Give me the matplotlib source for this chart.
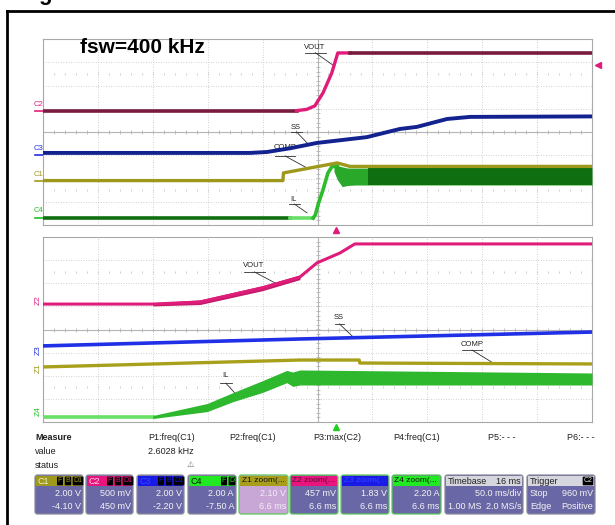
import numpy as np
import matplotlib
matplotlib.use("Agg")
import matplotlib.pyplot as plt
from matplotlib.patches import Rectangle, FancyBboxPatch

plt.rcParams['font.family'] = ['Liberation Sans', 'DejaVu Sans']

# ---- upper screen, in divisions (x 0..10, y -4..4)
vout1_t = [0, 4.62, 4.80, 4.95, 5.10, 5.26, 5.32, 5.37, 5.60, 10]
vout1_v = [0.92, 0.92, 0.97, 1.12, 1.68, 2.54, 3.01, 3.40, 3.40, 3.40]

ss1_t = [0, 3.77, 4.08, 4.50, 4.99, 5.90, 6.50, 6.81, 7.36, 7.78, 10]
ss1_v = [-0.90, -0.90, -0.86, -0.70, -0.47, -0.22, 0.13, 0.22, 0.56, 0.65, 0.67]

comp1_t = [0, 4.37, 4.38, 5.36, 5.59, 10]
comp1_v = [-2.09, -2.09, -1.76, -1.33, -1.48, -1.48]

il1_t = [0, 4.50, 4.92, 4.96, 5.02, 5.10, 5.19, 5.26, 5.36]
il1_v = [-3.70, -3.70, -3.70, -3.57, -3.05, -2.49, -1.76, -1.50, -1.45]
il1_band_t = [5.30, 5.36, 5.45, 5.55, 5.70, 5.92, 10]
il1_band_top = [-1.52, -1.45, -1.50, -1.55, -1.55, -1.55, -1.55]
il1_band_bot = [-1.70, -2.05, -2.35, -2.30, -2.28, -2.28, -2.28]

# ---- lower (zoomed) screen
vout2_t = [0, 2.0, 2.86, 4.0, 4.68, 4.99, 5.41, 5.68, 10]
vout2_v = [1.10, 1.10, 1.19, 1.80, 2.27, 2.88, 3.31, 3.70, 3.70]
vout2_band_t = [2.0, 2.86, 4.0, 4.68]
vout2_band_top = [1.15, 1.28, 1.90, 2.36]
vout2_band_bot = [1.02, 1.08, 1.68, 2.16]

ss2_t = [0, 4.68, 10]
ss2_v = [-0.71, -0.41, -0.11]

comp2_t = [0, 4.68, 5.76, 5.77, 10]
comp2_v = [-1.62, -1.32, -1.32, -1.45, -1.49]

il2_t = [0, 2.0]
il2_v = [-3.79, -3.79]
il2_band_t = [2.0, 2.99, 3.46, 4.0, 4.44, 4.55, 4.68, 10]
il2_band_top = [-3.72, -3.20, -2.73, -2.21, -1.77, -1.84, -1.75, -1.88]
il2_band_bot = [-3.85, -3.55, -3.12, -2.72, -2.30, -2.46, -2.40, -2.40]

# ---- info panel
box_names = ["C1", "C2", "C3", "C4", "Z1 zoom(...", "Z2 zoom(...", "Z3 zoom(...", "Z4 zoom(..."]
box_line1 = ["2.00 V", "500 mV", "2.00 V", "2.00 A", "2.10 V", "457 mV", "1.83 V", "2.20 A"]
box_line2 = ["-4.10 V", "450 mV", "-2.20 V", "-7.50 A", "6.6 ms", "6.6 ms", "6.6 ms", "6.6 ms"]
measure_labels = ["P1:freq(C1)", "P2:freq(C1)", "P3:max(C2)", "P4:freq(C1)", "P5:- - -", "P6:- - -"]

MAROON = '#7a1a3e'
PINK = '#e01c7a'
NAVY = '#12228e'
BLUE = '#1f30e6'
OLIVE = '#9e981c'
DKGREEN = '#0e6e10'
GREEN = '#2cbc2c'
LTGREEN = '#66e066'

fig = plt.figure(figsize=(6.15, 5.25), dpi=100)
bg = fig.add_axes([0, 0, 1, 1])
bg.set_xlim(0, 615)
bg.set_ylim(525, 0)
bg.axis('off')

# page frame and the clipped caption letter
bg.plot([7, 7], [11, 525], color='black', lw=2)
bg.plot([7, 615], [11, 11], color='black', lw=2)
bg.text(38, 0, "g", fontsize=16, fontweight='bold', ha='left', va='baseline')


def screen(top, bottom):
    ax = fig.add_axes([43/615, (525-bottom)/525, 549/615, (bottom-top)/525])
    ax.set_xlim(0, 10)
    ax.set_ylim(-4, 4)
    ax.set_xticks([])
    ax.set_yticks([])
    for s in ax.spines.values():
        s.set_color('#a8a8a8')
        s.set_linewidth(0.8)
    for i in range(1, 10):
        if i != 5:
            ax.axvline(i, color='#c2c2c2', lw=0.6, ls=(0, (1, 2)), zorder=0)
    for j in range(-3, 4):
        if j != 0:
            ax.axhline(j, color='#c2c2c2', lw=0.6, ls=(0, (1, 2)), zorder=0)
    ax.axhline(0, color='#b4b4b4', lw=0.8, zorder=0)
    ax.axvline(5, color='#b4b4b4', lw=0.8, zorder=0)
    tx = np.arange(0.2, 10, 0.2)
    ax.plot(tx, np.zeros_like(tx), ls='none', marker='|', ms=3, mew=0.6,
            color='#b4b4b4', zorder=0)
    ty = np.arange(-3.8, 4, 0.2)
    ax.plot(np.full_like(ty, 5), ty, ls='none', marker='_', ms=3, mew=0.6,
            color='#b4b4b4', zorder=0)
    for yy in (2.5, -2.5):
        ax.plot(tx, np.full_like(tx, yy), ls='none', marker='|', ms=1.6, mew=0.6,
                color='#c8c8c8', zorder=0)
    return ax


def tag(ax, text, tx, ty, ux0, ux1, uy, ex, ey):
    ax.text(tx, ty, text, ha='center', va='center', fontsize=5.5, color='#202020', zorder=1)
    ax.plot([ux0, ux1], [uy, uy], color='#303030', lw=0.6, zorder=1)
    ax.plot([(ux0 + ux1) / 2, ex], [uy, ey], color='#303030', lw=0.6, zorder=1)


# ---------------- upper screen
ax1 = screen(39, 225)
ax1.plot(vout1_t[:2], vout1_v[:2], color=MAROON, lw=2.6, zorder=3)
ax1.plot(vout1_t[1:9], vout1_v[1:9], color=PINK, lw=2.4, zorder=3)
ax1.plot(vout1_t[8:], vout1_v[8:], color=MAROON, lw=2.6, zorder=3)
ax1.plot(ss1_t, ss1_v, color=NAVY, lw=2.8, zorder=3)
ax1.plot(il1_t[:2], il1_v[:2], color=DKGREEN, lw=2.6, zorder=3)
ax1.plot(il1_t[1:3], il1_v[1:3], color=LTGREEN, lw=2.6, zorder=3)
ax1.plot(il1_t[2:], il1_v[2:], color=GREEN, lw=2.6, zorder=3)
ax1.fill_between(il1_band_t, il1_band_bot, il1_band_top, color='#2aa82a', lw=0, zorder=3)
ax1.fill_between(il1_band_t[5:], il1_band_bot[5:], il1_band_top[5:], color=DKGREEN, lw=0, zorder=3)
ax1.plot(comp1_t, comp1_v, color=OLIVE, lw=2.4, zorder=4)
ax1.text(1.82, 3.64, "fsw=400 kHz", fontsize=15, fontweight='bold', ha='center', va='center')
tag(ax1, "VOUT", 4.95, 3.62, 4.77, 5.15, 3.41, 5.28, 2.88)
tag(ax1, "SS", 4.61, 0.18, 4.52, 4.72, 0.0, 4.81, -0.47)
tag(ax1, "COMP", 4.41, -0.68, 4.23, 4.59, -1.03, 4.81, -1.55)
tag(ax1, "IL", 4.57, -2.90, 4.48, 4.68, -3.10, 4.81, -3.48)

# ---------------- lower screen
ax2 = screen(237, 422)
ax2.fill_between(vout2_band_t, vout2_band_bot, vout2_band_top, color='#c41a6a', lw=0, zorder=3)
ax2.plot(vout2_t, vout2_v, color=PINK, lw=2.2, zorder=3)
ax2.plot(ss2_t, ss2_v, color=BLUE, lw=2.6, zorder=3)
ax2.plot(comp2_t, comp2_v, color='#a8a01a', lw=2.4, zorder=3)
ax2.plot(il2_t, il2_v, color=LTGREEN, lw=2.6, zorder=3)
ax2.fill_between(il2_band_t, il2_band_bot, il2_band_top, color='#2db82d', lw=0, zorder=3)
tag(ax2, "VOUT", 3.83, 2.77, 3.66, 4.04, 2.49, 4.23, 2.01)
tag(ax2, "SS", 5.39, 0.52, 5.32, 5.48, 0.24, 5.63, -0.28)
tag(ax2, "COMP", 7.81, -0.65, 7.63, 8.00, -0.89, 8.20, -1.45)
tag(ax2, "IL", 3.32, -1.99, 3.22, 3.44, -2.32, 3.53, -2.84)

# channel ground markers and trigger arrows
for lab, y, c in [("C2", 104, PINK), ("C3", 148, BLUE), ("C1", 174, OLIVE), ("C4", 211, '#22c022')]:
    bg.text(38, y, lab, fontsize=5.5, color=c, ha='center', va='center')
    bg.plot([35, 43], [y + 6.5, y + 6.5], color=c, lw=1.2)
for lab, y, c in [("Z2", 300, PINK), ("Z3", 350, BLUE), ("Z1", 368, OLIVE), ("Z4", 411, '#22c022')]:
    bg.text(38, y, lab, fontsize=6, color=c, ha='center', va='center', rotation=90)
bg.plot(598, 65, marker='<', color=PINK, ms=4.5)
bg.plot(336, 230, marker='^', color=PINK, ms=4.5)
bg.plot(336, 427, marker='^', color='#22cc22', ms=4.5)

# ---------------- measure rows
bg.text(35, 438, "Measure", fontsize=6.5, fontweight='bold', va='center', color='#202020')
bg.text(35, 452, "value", fontsize=6.5, va='center', color='#202020')
bg.text(35, 466, "status", fontsize=6.5, va='center', color='#202020')
for lab, x in zip(measure_labels, [148, 229, 313, 393, 488, 567]):
    bg.text(x, 438, lab, fontsize=6.5, va='center', color='#202020')
bg.text(148, 452, "2.6028 kHz", fontsize=6.5, va='center', color='#202020')
bg.text(190, 464, "\u26a0", fontsize=6, ha='center', va='center', color='#707070',
        family=['DejaVu Sans'])

# ---------------- channel boxes
box_x = [(35, 83), (86, 133), (137, 184), (188, 236), (239, 288), (290, 338), (341, 389), (392, 441)]
head_cols = [OLIVE, '#ea147e', '#1a1ae6', '#22ea22', '#a89e1c', '#ea147e', '#1a1ae6', '#22ea22']
head_txt = ['#f0f0d0', '#ffd8e8', '#3448ff', '#101010', '#101010', '#501030', '#3448ff', '#101010']
BODY = '#6a67a6'


def panel(x0, x1, head, body, edge):
    bg.add_patch(FancyBboxPatch((x0, 475), x1 - x0, 39, boxstyle='round,pad=0,rounding_size=2.5',
                                fc=body, ec=edge, lw=0.9))
    bg.add_patch(Rectangle((x0 + 1, 476), x1 - x0 - 2, 10, fc=head, ec='none'))


for k, (x0, x1) in enumerate(box_x):
    zbox = k >= 4
    body = '#c8a6d6' if k == 4 else BODY
    panel(x0, x1, head_cols[k], body, '#5cc85c' if zbox else '#8a8a9a')
    bg.text(x0 + 2.5, 481, box_names[k], fontsize=6 if zbox else 6.5, color=head_txt[k],
            va='center', ha='left')
    tc = '#f4eefa' if k == 4 else '#f4f4f4'
    bg.text(x1 - 2, 494, box_line1[k], fontsize=6.5, color=tc, ha='right', va='center')
    bg.text(x1 - 2, 506.5, box_line2[k], fontsize=6.5, color=tc, ha='right', va='center')

# F B D1 badges in channel headers
for k, (x0, x1) in enumerate(box_x[:4]):
    marks = ["F", "D"] if k == 3 else ["F", "B", "D1"]
    xs = [x1 - 12, x1 - 4] if k == 3 else [x1 - 23, x1 - 15, x1 - 5]
    for m, xm in zip(marks, xs):
        bg.text(xm, 481, m, fontsize=5, color=head_cols[k], ha='center', va='center',
                bbox=dict(boxstyle='round,pad=0.12', fc='black', ec='none'))

# timebase and trigger
panel(445, 523, '#d6d6de', BODY, '#8a8a9a')
bg.text(448, 481, "Timebase", fontsize=6.5, color='#202020', va='center')
bg.text(521, 481, "16 ms", fontsize=6.5, color='#202020', va='center', ha='right')
bg.text(521, 494, "50.0 ms/div", fontsize=6.5, color='#f4f4f4', va='center', ha='right')
bg.text(448, 506.5, "1.00 MS", fontsize=6.5, color='#f4f4f4', va='center')
bg.text(521, 506.5, "2.0 MS/s", fontsize=6.5, color='#f4f4f4', va='center', ha='right')

panel(527, 595, '#d6d6de', BODY, '#8a8a9a')
bg.text(530, 481, "Trigger", fontsize=6.5, color='#202020', va='center')
bg.text(588, 481, "C2", fontsize=5, color='#e0e0e0', va='center', ha='center',
        bbox=dict(boxstyle='round,pad=0.12', fc='black', ec='none'))
bg.text(530, 494, "Stop", fontsize=6.5, color='#f4f4f4', va='center')
bg.text(593, 494, "960 mV", fontsize=6.5, color='#f4f4f4', va='center', ha='right')
bg.text(530, 506.5, "Edge", fontsize=6.5, color='#f4f4f4', va='center')
bg.text(593, 506.5, "Positive", fontsize=6.5, color='#f4f4f4', va='center', ha='right')

fig.savefig("out.png", dpi=100)
